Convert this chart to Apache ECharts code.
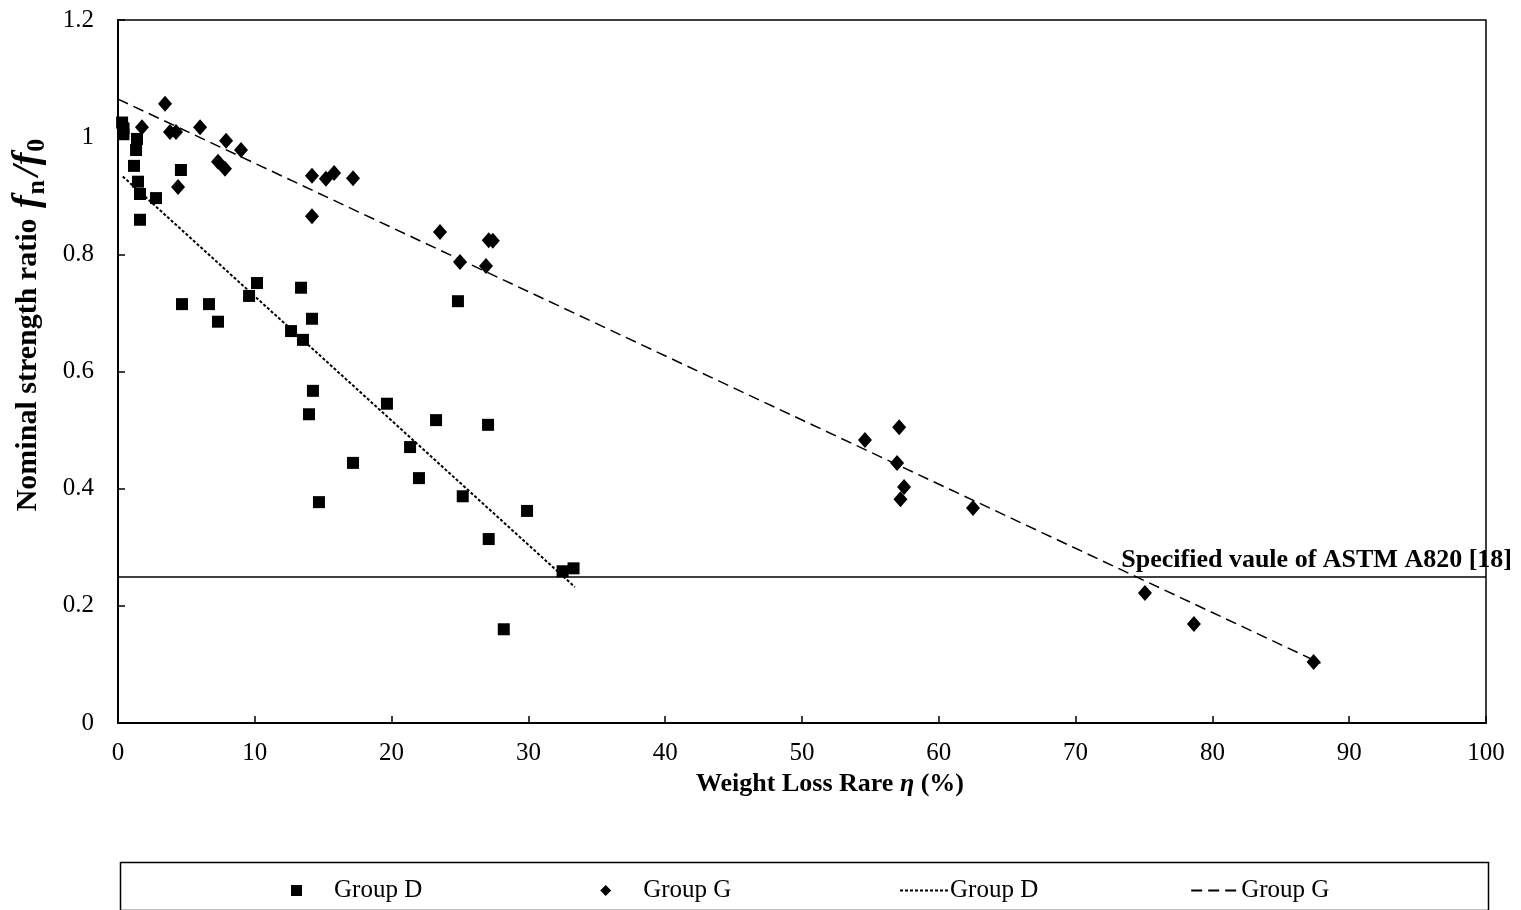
<!DOCTYPE html>
<html>
<head>
<meta charset="utf-8">
<script src="https://cdn.jsdelivr.net/npm/echarts@6/dist/echarts.min.js"></script>
<style>
  html, body { margin: 0; padding: 0; background: #fff; }
  #chart { width: 1521px; height: 910px; }
</style>
</head>
<body>
<div id="chart"></div>
<script>
// weight loss rate (%) and strength ratio
const groupD = [
    [0.3, 1.025], [0.4, 1.015], [0.4, 1.005], [1.39, 0.997], [1.32, 0.978],
    [1.17, 0.951], [1.46, 0.924], [1.61, 0.903], [2.78, 0.896], [1.61, 0.859],
    [4.6, 0.944], [4.68, 0.715], [6.65, 0.715], [7.31, 0.685], [9.58, 0.729],
    [10.16, 0.751], [13.38, 0.743], [14.18, 0.69], [12.65, 0.669], [13.52, 0.654],
    [24.85, 0.72], [14.25, 0.567], [13.96, 0.527], [19.66, 0.545], [23.25, 0.517],
    [27.05, 0.509], [17.18, 0.444], [14.69, 0.377], [21.35, 0.471], [22.0, 0.418],
    [25.2, 0.387], [29.9, 0.362], [27.1, 0.314], [32.5, 0.259], [33.3, 0.264],
    [28.2, 0.16]
];
const groupG = [
    [3.44, 1.057], [1.75, 1.017], [3.8, 1.009], [4.24, 1.009], [6.0, 1.017],
    [7.9, 0.994], [8.99, 0.978], [7.31, 0.958], [7.82, 0.946], [4.39, 0.915],
    [14.18, 0.934], [15.2, 0.929], [15.8, 0.939], [17.18, 0.93], [14.18, 0.865],
    [23.54, 0.838], [25.0, 0.787], [27.1, 0.824], [27.4, 0.823], [26.9, 0.78],
    [54.6, 0.483], [57.1, 0.505], [56.95, 0.444], [57.46, 0.403], [57.2, 0.382],
    [62.5, 0.367], [75.07, 0.222], [78.65, 0.169], [87.4, 0.104]
];
// linear trend line end points
const trendD = [[0.35, 0.933], [33.4, 0.232]];
const trendG = [[0, 1.065], [87.9, 0.102]];
const astmLimit = 0.247;
const astmLabel = 'Specified vaule of ASTM A820 [18]';

const serif = '"Liberation Serif", "DejaVu Serif", serif';
const chart = echarts.init(document.getElementById('chart'));

chart.setOption({
    backgroundColor: '#fff',
    animation: false,
    textStyle: { fontFamily: serif, color: '#000' },
    grid: { left: 118, right: 35, top: 20, bottom: 187, show: true, borderColor: '#000', borderWidth: 1.5 },
    xAxis: {
        type: 'value', min: 0, max: 100, interval: 10,
        name: '{b|Weight Loss Rare }{i|η}{b| (%)}',
        nameLocation: 'middle', nameGap: 44,
        nameTextStyle: {
            padding: [0, 0, 0, 56],
            rich: {
                b: { fontFamily: serif, fontWeight: 'bold', fontSize: 26, color: '#000' },
                i: { fontFamily: serif, fontWeight: 'bold', fontStyle: 'italic', fontSize: 26, color: '#000' }
            }
        },
        axisLine: { lineStyle: { color: '#000', width: 2 } },
        axisTick: { inside: true, length: 7, lineStyle: { color: '#000', width: 1.5 } },
        axisLabel: { fontFamily: serif, fontSize: 25, color: '#000', margin: 18 },
        splitLine: { show: false }
    },
    yAxis: {
        type: 'value', min: 0, max: 1.2, interval: 0.2,
        name: '{b|Nominal strength ratio }{i|f}{s|n}{i|/f}{s|0}',
        nameLocation: 'middle', nameGap: 68, nameRotate: 90,
        nameTextStyle: {
            padding: [0, 0, 0, 94],
            rich: {
                b: { fontFamily: serif, fontWeight: 'bold', fontSize: 30, color: '#000' },
                i: { fontFamily: serif, fontWeight: 'bold', fontStyle: 'italic', fontSize: 38, color: '#000', padding: [0, 1, 0, 3] },
                s: { fontFamily: serif, fontWeight: 'bold', fontSize: 26, color: '#000', padding: [17, 1, 0, 0] }
            }
        },
        axisLine: { show: true, lineStyle: { color: '#000', width: 2 } },
        axisTick: { show: true, inside: true, length: 7, lineStyle: { color: '#000', width: 1.5 } },
        axisLabel: { fontFamily: serif, fontSize: 25, color: '#000', margin: 24 },
        splitLine: { show: false }
    },
    legend: [
        {
            left: 286, top: 873, itemGap: 178, itemWidth: 11, itemHeight: 11,
            textStyle: { fontFamily: serif, fontSize: 25, color: '#000', padding: [0, 0, 0, 27] },
            data: ['Group D', 'Group G']
        },
        {
            left: 894, top: 873, itemGap: 152, itemWidth: 49, itemHeight: 14,
            textStyle: { fontFamily: serif, fontSize: 25, color: '#000', padding: [0, 0, 0, -4] },
            itemStyle: { opacity: 0 },
            formatter: (name) => name.replace(' fit', ''),
            data: ['Group D fit', 'Group G fit']
        }
    ],
    graphic: [{
        type: 'rect', left: 118, top: 860, silent: true,
        shape: { width: 1368, height: 48 },
        style: { fill: 'none', stroke: '#000', lineWidth: 1.5 }
    }],
    series: [
        {
            name: 'Group D', type: 'scatter', symbol: 'rect', symbolSize: 12,
            itemStyle: { color: '#000', opacity: 1 }, data: groupD, z: 5
        },
        {
            name: 'Group G', type: 'scatter', symbol: 'diamond', symbolSize: [14, 16],
            itemStyle: { color: '#000', opacity: 1 }, data: groupG, z: 5
        },
        {
            name: 'Group D fit', type: 'line', symbol: 'none', data: trendD,
            itemStyle: { color: '#000' },
            lineStyle: { color: '#000', width: 2, type: [3, 2] }
        },
        {
            name: 'Group G fit', type: 'line', symbol: 'none', data: trendG,
            itemStyle: { color: '#000' },
            lineStyle: { color: '#000', width: 1.5, type: [11, 6] },
            markLine: {
                silent: true, symbol: 'none',
                lineStyle: { color: '#000', width: 1.5, type: 'solid' },
                label: {
                    formatter: astmLabel, position: 'insideEndTop', distance: [-26, 3],
                    fontFamily: serif, fontWeight: 'bold', fontSize: 26, color: '#000'
                },
                data: [{ yAxis: astmLimit }]
            }
        }
    ]
});
</script>
</body>
</html>
